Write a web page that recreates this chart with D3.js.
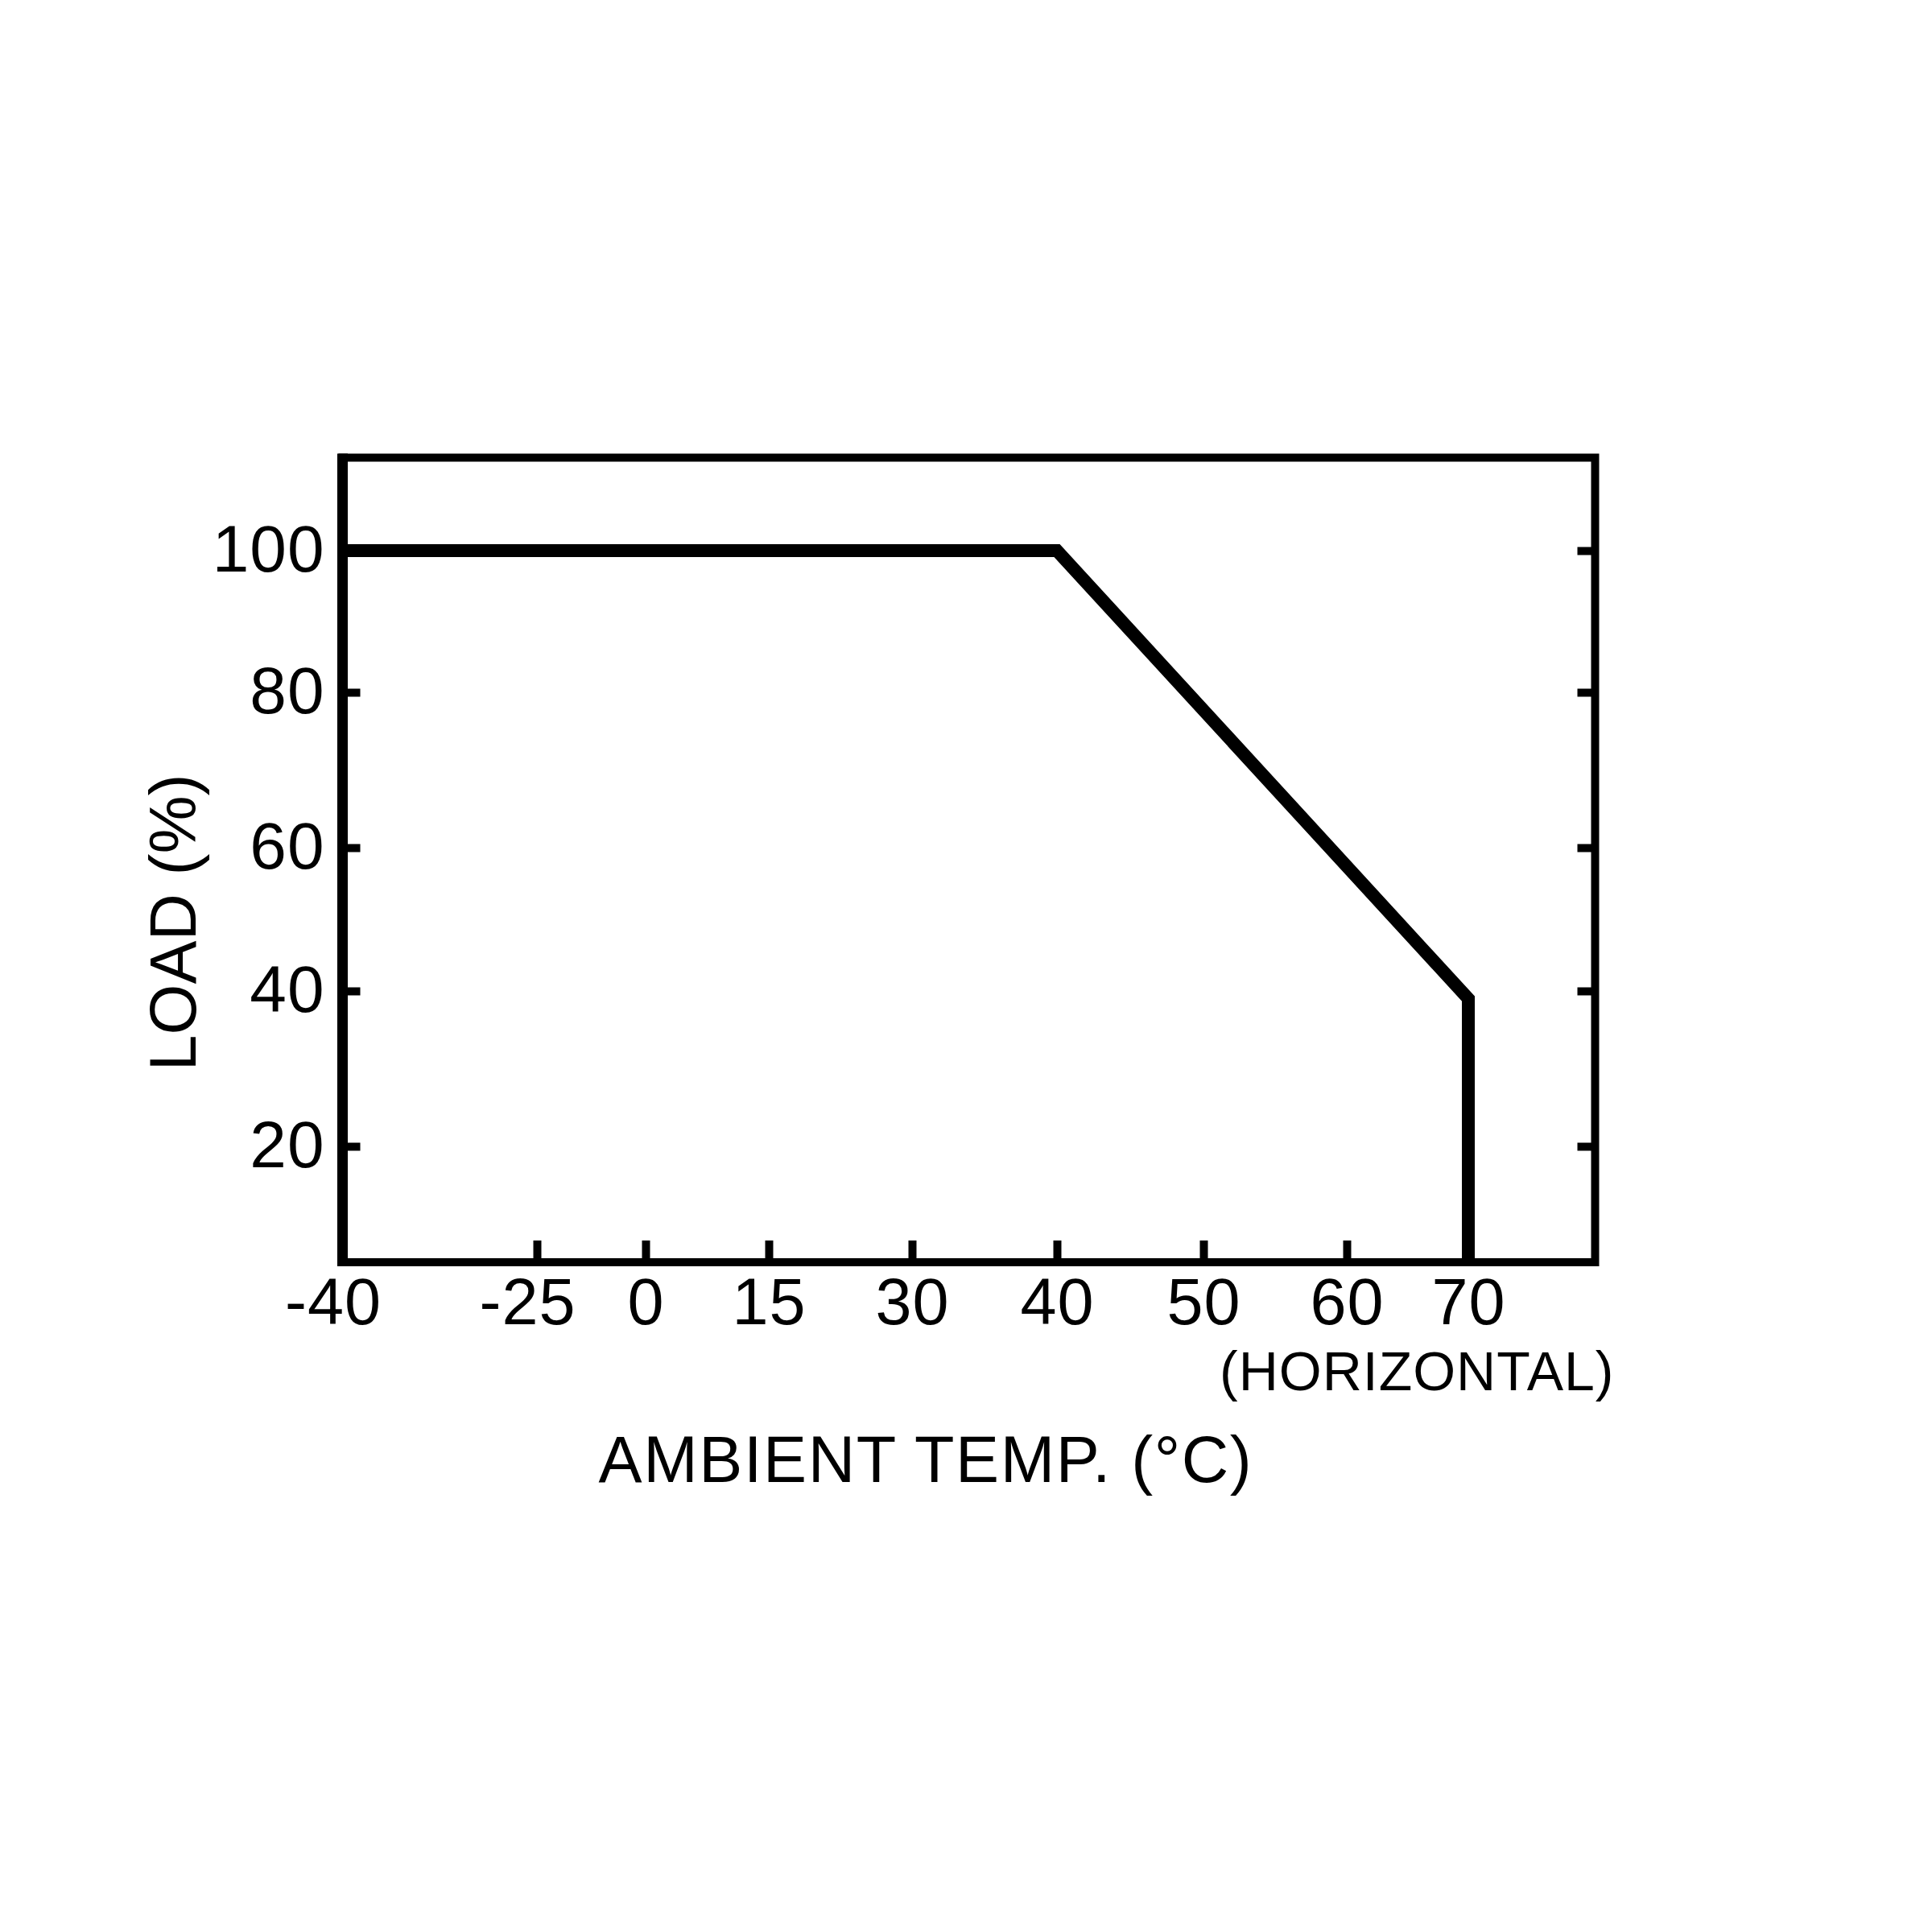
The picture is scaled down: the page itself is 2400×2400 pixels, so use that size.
<!DOCTYPE html>
<html>
<head>
<meta charset="utf-8">
<script src="https://cdn.jsdelivr.net/npm/d3@7"></script>
<style>
  html, body { margin: 0; padding: 0; background: #ffffff; }
  svg { display: block; }
  text { font-family: "Liberation Sans", Arial, Helvetica, sans-serif; fill: #000; }
</style>
</head>
<body>
<script>
// ---- data ----
const xTickValues = [-40, -25, 0, 15, 30, 40, 50, 60, 70];
const xTickLabels = ["-40", "-25", "0", "15", "30", "40", "50", "60", "70"];
const yTickValues = [20, 40, 60, 80, 100];
const yTickLabels = ["20", "40", "60", "80", "100"];
const curveTemp = [-40, 40, 70, 70];   // ambient temperature (°C)
const curveLoad = [100, 100, 39, 5];   // load (%)
const xTitle = "AMBIENT TEMP. (°C)";
const xNote = "(HORIZONTAL)";
const yTitle = "LOAD (%)";

(function () {
  // ---- layout ----
  const W = 2400, H = 2400;
  const pL = 425.5, pR = 1981.5, pT = 568.5, pB = 1568;

  // the printed axes are not evenly spaced, so use piecewise-linear scales
  const x = d3.scaleLinear()
    .domain([-40, -25, 0, 15, 30, 40, 50, 60, 70, 78.75])
    .range([pL, 667, 802, 955, 1133, 1313, 1495, 1673, 1824, pR]);
  const y = d3.scaleLinear()
    .domain([5, 20, 40, 60, 80, 100, 113.2])
    .range([pB, 1424, 1231, 1053, 860, 684, pT]);

  const svg = d3.select("body").append("svg")
    .attr("width", W).attr("height", H)
    .attr("viewBox", `0 0 ${W} ${H}`);

  svg.append("rect").attr("width", W).attr("height", H).attr("fill", "#fff");

  // bottom axis (ticks pointing inward)
  const xAxis = d3.axisBottom(x)
    .tickValues(xTickValues)
    .tickFormat((d, i) => xTickLabels[i])
    .tickSizeInner(-27).tickSizeOuter(0).tickPadding(0);
  const gx = svg.append("g").attr("transform", `translate(0,${pB})`).call(xAxis);
  gx.select(".domain").remove();
  gx.selectAll(".tick line").attr("stroke", "#000").attr("stroke-width", 10);
  gx.selectAll(".tick text")
    .attr("y", 77).attr("dy", null)
    .attr("dx", d => d < 0 ? -12 : 0)
    .attr("font-size", 81)
    .attr("letter-spacing", 1)
    .attr("font-family", "'Liberation Sans', Arial, sans-serif")
    .attr("fill", "#000");

  // left axis
  const yAxis = d3.axisLeft(y)
    .tickValues(yTickValues)
    .tickFormat((d, i) => yTickLabels[i])
    .tickSizeInner(-22).tickSizeOuter(0).tickPadding(22);
  const gy = svg.append("g").attr("transform", `translate(${pL},0)`).call(yAxis);
  gy.select(".domain").remove();
  gy.selectAll(".tick line").attr("stroke", "#000").attr("stroke-width", 10);
  gy.selectAll(".tick text")
    .attr("dy", "0.31em")
    .attr("font-size", 82)
    .attr("letter-spacing", 1)
    .attr("font-family", "'Liberation Sans', Arial, sans-serif")
    .attr("fill", "#000");

  // right axis (ticks only)
  const yAxisR = d3.axisRight(y)
    .tickValues(yTickValues)
    .tickFormat("")
    .tickSizeInner(-22).tickSizeOuter(0);
  const gyr = svg.append("g").attr("transform", `translate(${pR},0)`).call(yAxisR);
  gyr.select(".domain").remove();
  gyr.selectAll(".tick line").attr("stroke", "#000").attr("stroke-width", 10);

  // frame
  svg.append("rect")
    .attr("x", pL).attr("y", pT)
    .attr("width", pR - pL).attr("height", pB - pT)
    .attr("fill", "none").attr("stroke", "#000").attr("stroke-width", 10);
  svg.append("line")
    .attr("x1", pL).attr("x2", pL)
    .attr("y1", pT - 5).attr("y2", pB + 5)
    .attr("stroke", "#000").attr("stroke-width", 13);

  // derating curve
  const pts = curveTemp.map((t, i) => [t, curveLoad[i]]);
  const line = d3.line().x(d => x(d[0])).y(d => y(d[1]));
  svg.append("path")
    .attr("d", line(pts))
    .attr("fill", "none")
    .attr("stroke", "#000")
    .attr("stroke-width", 16)
    .attr("stroke-linejoin", "miter")
    .attr("stroke-linecap", "butt");

  // titles
  svg.append("text")
    .attr("x", 1150).attr("y", 1841)
    .attr("text-anchor", "middle")
    .attr("font-size", 81)
    .attr("letter-spacing", 1.6)
    .text(xTitle);

  svg.append("text")
    .attr("x", 1515).attr("y", 1727)
    .attr("text-anchor", "start")
    .attr("font-size", 68)
    .attr("letter-spacing", 1)
    .text(xNote);

  svg.append("text")
    .attr("transform", `translate(243,1146) rotate(-90)`)
    .attr("text-anchor", "middle")
    .attr("font-size", 81)
    .text(yTitle);
})();
</script>
</body>
</html>
